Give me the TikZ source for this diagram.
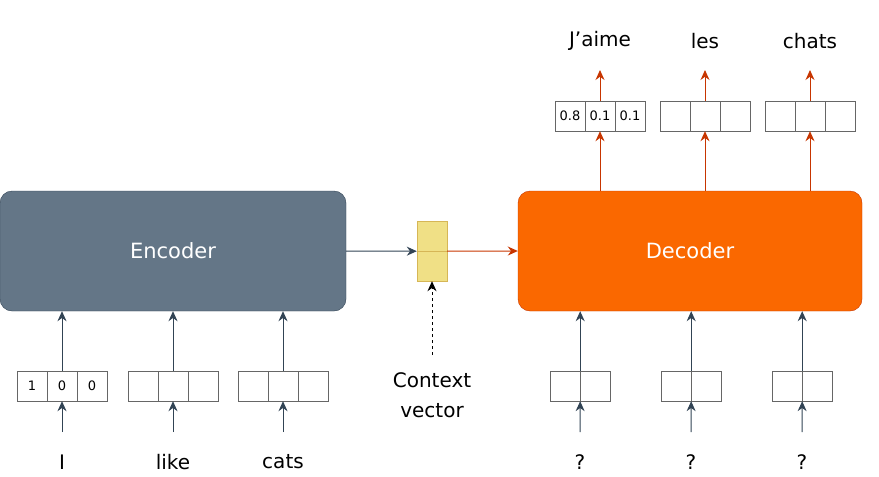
\documentclass[tikz,border=0pt]{standalone}
\usepackage{fontspec}
\setmainfont{DejaVu Sans}
\usetikzlibrary{arrows.meta}
\definecolor{encfill}{HTML}{647687}
\definecolor{encline}{HTML}{314354}
\definecolor{decfill}{HTML}{FA6800}
\definecolor{decline}{HTML}{C73500}
\definecolor{ctxfill}{HTML}{F0E086}
\definecolor{ctxline}{HTML}{D6B656}
\tikzset{
  block/.style = {rectangle, rounded corners=12pt, minimum width=346pt, minimum height=120pt, text=white, font=\fontsize{21}{25}\selectfont},
  cell/.style = {rectangle, draw=black!60, fill=white, minimum size=30pt, inner sep=0pt, font=\fontsize{13}{15}\selectfont},
  ctx/.style = {rectangle, draw=ctxline, fill=ctxfill, minimum size=30pt, inner sep=0pt},
  word/.style = {font=\fontsize{20}{24}\selectfont},
  darrow/.style = {line width=1pt, encline, -{Stealth[length=10pt,width=9pt]}},
  oarrow/.style = {line width=1pt, decline, -{Stealth[length=10pt,width=9pt]}},
}
\begin{document}
\begin{tikzpicture}[x=1pt, y=-1pt]
\useasboundingbox (0,0) rectangle (879,477);

\node (enc) [block, draw=encline, fill=encfill] at (173,251) {Encoder};
\node (dec) [block, draw=decline, fill=decfill, minimum width=344pt] at (690,251) {Decoder};

\node (ctxa) [ctx] at (432,236) {};
\node (ctxb) [ctx] at (432,266) {};
\node (ctxlab) [word, align=center, font=\fontsize{20}{30}\selectfont] at (432,395) {Context\\vector};
\coordinate (ctxtail) at (432,355);

% encoder inputs
\foreach \n/\x/\w/\a/\b/\c in {1/62/I/1/0/0, 2/173/like/{}/{}/{}, 3/283/cats/{}/{}/{}}{
  \node (in\n b) [cell] at (\x,386) {\b};
  \node (in\n a) [cell] at (\x-30,386) {\a};
  \node (in\n c) [cell] at (\x+30,386) {\c};
  \node (w\n) [word] at (\x,462) {\w};
  \coordinate (wt\n) at (\x,432);
  \draw [darrow] (wt\n) -- (in\n b.south);
  \draw [darrow] (in\n b.north) -- (enc.south -| in\n b);
}

% decoder inputs
\foreach \n/\x in {1/580, 2/691, 3/802}{
  \node (q\n a) [cell] at (\x-15,386) {};
  \node (q\n b) [cell] at (\x+15,386) {};
  \node (qw\n) [word] at (\x,462) {?};
  \coordinate (qt\n) at (\x,432);
  \draw [darrow] (qt\n) -- (q\n a.south east);
  \draw [darrow] (q\n a.north east) -- (dec.south -| q\n a.north east);
}

% decoder outputs
\foreach \n/\x/\w/\a/\b/\c in {1/600/J'aime/0.8/0.1/0.1, 2/705/les/{}/{}/{}, 3/810/chats/{}/{}/{}}{
  \node (out\n b) [cell] at (\x,116) {\b};
  \node (out\n a) [cell] at (\x-30,116) {\a};
  \node (out\n c) [cell] at (\x+30,116) {\c};
  \node (ow\n) [word] at (\x,41) {\w};
  \coordinate (tip\n) at (\x,70);
  \draw [oarrow] (dec.north -| out\n b) -- (out\n b.south);
  \draw [oarrow] (out\n b.north) -- (tip\n);
}

\draw [darrow] (enc.east) -- (ctxa.south west);
\draw [oarrow] (ctxa.south east) -- (dec.west);
\draw [line width=1pt, dashed, -{Stealth[length=10pt,width=9pt]}] (ctxtail) -- (ctxb.south);
\end{tikzpicture}
\end{document}
